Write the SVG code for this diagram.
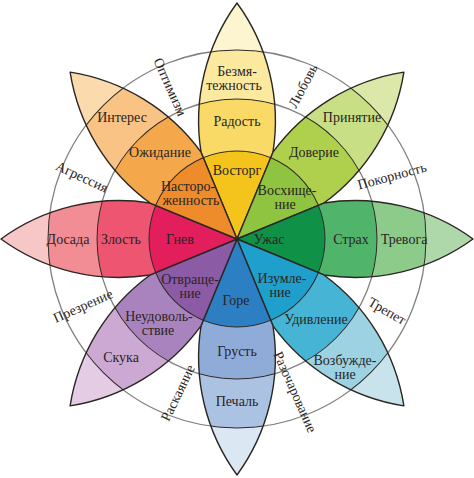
<svg xmlns="http://www.w3.org/2000/svg" xmlns:xlink="http://www.w3.org/1999/xlink" width="474" height="478" viewBox="0 0 474 478">
<style>
.t{font-family:"Liberation Serif","Times New Roman",serif;font-size:14px;fill:#2a2424;text-anchor:middle}
.ring{fill:none;stroke:#808080;stroke-width:1.3}
.band{fill:none;stroke:#2e2a26;stroke-width:1}
.outline{fill:none;stroke:#2a2622;stroke-width:1.4;stroke-linejoin:round}
</style>
<defs>
<path id="petal" d="M0,0 L86.85,-35.97 A200.47,200.47 0 0,1 236,0 A200.47,200.47 0 0,1 86.85,35.97 Z"/>
<clipPath id="pc"><use xlink:href="#petal"/></clipPath>
</defs>
<rect width="474" height="478" fill="#ffffff"/>
<g id="rings">
<circle class="ring" cx="237" cy="239" r="189"/>
<circle class="ring" cx="237" cy="239" r="140"/>
</g>

<g id="joy">
<g transform="translate(237 239) rotate(-90)">
<g clip-path="url(#pc)">
<use xlink:href="#petal" fill="#fdf5d0"/>
<circle r="189" fill="#fbe9a0"/><circle r="140" fill="#f9da66"/><circle r="88" fill="#f4c41c"/>
<circle r="189" class="band"/><circle r="140" class="band"/><circle r="88" class="band"/>
</g>
<use xlink:href="#petal" class="outline"/>
</g>
<text class="t" x="237" y="76">Безмя-</text>
<text class="t" x="234" y="90">тежность</text>
<text class="t" x="237" y="126">Радость</text>
<text class="t" x="237" y="175">Восторг</text>
</g>

<g id="trust">
<g transform="translate(237 239) rotate(-45)">
<g clip-path="url(#pc)">
<use xlink:href="#petal" fill="#dbe8aa"/>
<circle r="189" fill="#c9df86"/><circle r="140" fill="#afd04c"/><circle r="88" fill="#8ec43f"/>
<circle r="189" class="band"/><circle r="140" class="band"/><circle r="88" class="band"/>
</g>
<use xlink:href="#petal" class="outline"/>
</g>
<text class="t" x="352" y="122">Принятие</text>
<text class="t" x="314" y="157">Доверие</text>
<text class="t" x="287" y="195">Восхище-</text>
<text class="t" x="285" y="209">ние</text>
</g>

<g id="fear">
<g transform="translate(237 239) rotate(0)">
<g clip-path="url(#pc)">
<use xlink:href="#petal" fill="#aed8aa"/>
<circle r="189" fill="#8dcb8b"/><circle r="140" fill="#50b56b"/><circle r="88" fill="#0f9147"/>
<circle r="189" class="band"/><circle r="140" class="band"/><circle r="88" class="band"/>
</g>
<use xlink:href="#petal" class="outline"/>
</g>
<text class="t" x="269" y="244">Ужас</text>
<text class="t" x="351" y="244">Страх</text>
<text class="t" x="404" y="244">Тревога</text>
</g>

<g id="surprise">
<g transform="translate(237 239) rotate(45)">
<g clip-path="url(#pc)">
<use xlink:href="#petal" fill="#c8e3ec"/>
<circle r="189" fill="#9cd2e2"/><circle r="140" fill="#46b5d5"/><circle r="88" fill="#1e9fcc"/>
<circle r="189" class="band"/><circle r="140" class="band"/><circle r="88" class="band"/>
</g>
<use xlink:href="#petal" class="outline"/>
</g>
<text class="t" x="282" y="283">Изумле-</text>
<text class="t" x="280" y="297">ние</text>
<text class="t" x="316" y="324">Удивление</text>
<text class="t" x="345" y="365">Возбужде-</text>
<text class="t" x="345" y="379">ние</text>
</g>

<g id="sadness">
<g transform="translate(237 239) rotate(90)">
<g clip-path="url(#pc)">
<use xlink:href="#petal" fill="#dce7f4"/>
<circle r="189" fill="#abc2e3"/><circle r="140" fill="#8facd9"/><circle r="88" fill="#2c7fc2"/>
<circle r="189" class="band"/><circle r="140" class="band"/><circle r="88" class="band"/>
</g>
<use xlink:href="#petal" class="outline"/>
</g>
<text class="t" x="236" y="305">Горе</text>
<text class="t" x="237" y="356">Грусть</text>
<text class="t" x="237" y="406">Печаль</text>
</g>

<g id="disgust">
<g transform="translate(237 239) rotate(135)">
<g clip-path="url(#pc)">
<use xlink:href="#petal" fill="#e3cce4"/>
<circle r="189" fill="#cba9d3"/><circle r="140" fill="#a983bd"/><circle r="88" fill="#8b5ba6"/>
<circle r="189" class="band"/><circle r="140" class="band"/><circle r="88" class="band"/>
</g>
<use xlink:href="#petal" class="outline"/>
</g>
<text class="t" x="190" y="284">Отвраще-</text>
<text class="t" x="190" y="298">ние</text>
<text class="t" x="159" y="321">Неудоволь-</text>
<text class="t" x="158" y="335">ствие</text>
<text class="t" x="121" y="362">Скука</text>
</g>

<g id="anger">
<g transform="translate(237 239) rotate(180)">
<g clip-path="url(#pc)">
<use xlink:href="#petal" fill="#f7c6c6"/>
<circle r="189" fill="#f28d95"/><circle r="140" fill="#ed5571"/><circle r="88" fill="#e31e5d"/>
<circle r="189" class="band"/><circle r="140" class="band"/><circle r="88" class="band"/>
</g>
<use xlink:href="#petal" class="outline"/>
</g>
<text class="t" x="68" y="244">Досада</text>
<text class="t" x="121" y="244">Злость</text>
<text class="t" x="180" y="244">Гнев</text>
</g>

<g id="anticipation">
<g transform="translate(237 239) rotate(-135)">
<g clip-path="url(#pc)">
<use xlink:href="#petal" fill="#fbdaad"/>
<circle r="189" fill="#f8c385"/><circle r="140" fill="#f4a84b"/><circle r="88" fill="#ee8b2b"/>
<circle r="189" class="band"/><circle r="140" class="band"/><circle r="88" class="band"/>
</g>
<use xlink:href="#petal" class="outline"/>
</g>
<text class="t" x="122" y="122">Интерес</text>
<text class="t" x="160" y="157">Ожидание</text>
<text class="t" x="188" y="191">Насторо-</text>
<text class="t" x="191" y="205">женность</text>
</g>

<g id="dyads">
<text class="t" transform="translate(170 87) rotate(66)" y="4.5">Оптимизм</text>
<text class="t" transform="translate(303 86) rotate(-62)" y="4.5">Любовь</text>
<text class="t" transform="translate(392 176) rotate(-15)" y="4.5">Покорность</text>
<text class="t" transform="translate(387 311) rotate(30)" y="4.5">Трепет</text>
<text class="t" transform="translate(295 392) rotate(66)" y="4.5">Разочарование</text>
<text class="t" transform="translate(178 393) rotate(-64)" y="4.5">Раскаяние</text>
<text class="t" transform="translate(83 306) rotate(-24)" y="4.5">Презрение</text>
<text class="t" transform="translate(82 177) rotate(25)" y="4.5">Агрессия</text>
</g>
</svg>
